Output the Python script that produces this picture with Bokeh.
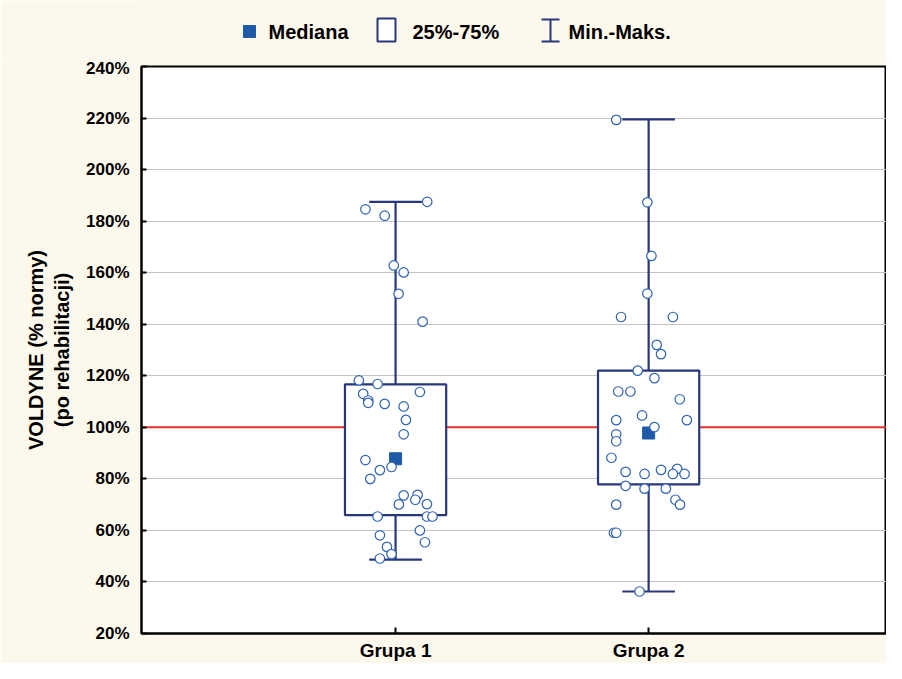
import numpy as np
from bokeh.plotting import figure
from bokeh.models import Range1d, Span, FixedTicker, PrintfTickFormatter
from bokeh.layouts import column
from bokeh.embed import file_html
from bokeh.resources import INLINE
from bokeh.core.properties import value

# ---------------- data ----------------
groups = ["Grupa 1", "Grupa 2"]
group_pos = [1, 2]

g1_values = [187.5, 184.6, 182.1, 162.8, 160.1, 151.8, 141.0, 118.2, 116.8, 113.0,
             110.4, 109.5, 109.1, 113.7, 108.1, 102.9, 97.3, 87.3, 83.4, 84.6,
             80.0, 73.6, 73.8, 71.9, 70.1, 70.2, 65.4, 65.4, 65.4, 60.0,
             58.1, 55.4, 53.6, 50.8, 49.1]
g1_jitter = [0.125, -0.119, -0.043, -0.007, 0.032, 0.012, 0.107, -0.145, -0.071, -0.128,
             -0.108, -0.108, -0.043, 0.096, 0.032, 0.041, 0.032, -0.119, -0.062, -0.016,
             -0.100, 0.032, 0.087, 0.078, 0.013, 0.124, -0.071, 0.124, 0.146, 0.096,
             -0.062, 0.116, -0.034, -0.016, -0.062]

g2_values = [219.3, 187.3, 166.5, 151.9, 142.8, 142.8, 132.0, 128.4, 122.0, 119.1,
             113.9, 113.9, 110.9, 104.6, 102.8, 102.8, 100.1, 97.3, 94.6, 88.2,
             82.7, 81.9, 83.5, 83.9, 81.9, 81.9, 77.3, 76.2, 76.2, 71.9,
             70.0, 70.0, 59.1, 59.1, 36.3]
g2_jitter = [-0.128, -0.005, 0.011, -0.005, -0.109, 0.096, 0.032, 0.049, -0.043, 0.023,
             -0.120, -0.072, 0.123, -0.026, -0.128, 0.151, 0.023, -0.128, -0.128, -0.147,
             -0.091, -0.016, 0.049, 0.113, 0.096, 0.142, -0.091, -0.016, 0.068, 0.106,
             0.124, -0.128, -0.137, -0.128, -0.036]

q1 = [65.9, 77.9]
q3 = [116.7, 122.0]
median = [87.8, 97.8]
vmin = [48.7, 36.3]
vmax = [187.5, 219.5]

reference_level = 100
y_ticks = list(range(20, 241, 20))
legend_labels = ["Mediana", "25%-75%", "Min.-Maks."]
y_title = "VOLDYNE (% normy)\n(po rehabilitacji)"

# ---------------- style ----------------
CREAM = "#fdf8ec"
NAVY = "#28377a"
PT = "#2f62b3"
MED = "#1f5aa8"
RED = "#e5302a"
FONT = value("Liberation Sans")
FONTNAME = "Liberation Sans"

BOX_HW = 0.2
CAP_HW = 0.104

W = 886
LEFT = 141
LEG_H = 58
MAIN_H = 605

# ---------------- main figure ----------------
p = figure(width=W, height=MAIN_H, x_range=Range1d(-0.004, 2.94), y_range=Range1d(20, 240),
           output_backend="svg", toolbar_location=None,
           min_border_left=LEFT, min_border_right=0, min_border_top=8, min_border_bottom=27)
p.background_fill_color = "white"
p.border_fill_color = CREAM
p.outline_line_color = "black"
p.outline_line_width = 2

p.xgrid.visible = False
p.ygrid.ticker = FixedTicker(ticks=y_ticks)
p.ygrid.grid_line_color = "#c4c4c4"
p.ygrid.grid_line_width = 1

p.add_layout(Span(location=reference_level, dimension="width", line_color=RED,
                  line_width=2, level="underlay"))

pos = np.array(group_pos, dtype=float)
# boxes
p.quad(left=pos - BOX_HW, right=pos + BOX_HW, bottom=q1, top=q3,
       fill_color="white", line_color=NAVY, line_width=2.2)
# whiskers
p.segment(x0=pos, y0=vmin, x1=pos, y1=q1, line_color=NAVY, line_width=2.2)
p.segment(x0=pos, y0=q3, x1=pos, y1=vmax, line_color=NAVY, line_width=2.2)
p.segment(x0=pos - CAP_HW, y0=vmin, x1=pos + CAP_HW, y1=vmin, line_color=NAVY, line_width=2.2)
p.segment(x0=pos - CAP_HW, y0=vmax, x1=pos + CAP_HW, y1=vmax, line_color=NAVY, line_width=2.2)
# medians
p.scatter(x=pos, y=median, marker="square", size=12, fill_color=MED, line_color=MED)
# points
for gp, vals, jit in [(group_pos[0], g1_values, g1_jitter), (group_pos[1], g2_values, g2_jitter)]:
    p.scatter(x=gp + np.array(jit), y=vals, marker="circle", size=9.5,
              fill_color="white", line_color=PT, line_width=1.2)

# axes
p.yaxis.ticker = FixedTicker(ticks=y_ticks)
p.yaxis.formatter = PrintfTickFormatter(format="%d%%")
p.xaxis.ticker = FixedTicker(ticks=group_pos)
p.xaxis.major_label_overrides = {gp: g for gp, g in zip(group_pos, groups)}
for ax in (p.xaxis[0], p.yaxis[0]):
    ax.axis_line_color = "black"
    ax.axis_line_width = 2
    ax.major_tick_line_color = "black"
    ax.major_tick_line_width = 2
    ax.major_tick_out = 0
    ax.minor_tick_line_color = None
    ax.major_label_text_font = FONTNAME
    ax.major_label_text_font_style = "bold"
    ax.major_label_text_color = "black"
p.yaxis.major_tick_in = 5
p.xaxis.major_tick_in = 6
p.yaxis.major_label_text_font_size = "17px"
p.xaxis.major_label_text_font_size = "19px"
p.yaxis.major_label_standoff = 12
p.xaxis.major_label_standoff = 6
p.yaxis.axis_label = y_title
p.yaxis.axis_label_text_font = FONTNAME
p.yaxis.axis_label_text_font_style = "bold"
p.yaxis.axis_label_text_font_size = "20px"
p.yaxis.axis_label_text_color = "black"
p.yaxis.axis_label_standoff = 10

# ---------------- legend figure (frame aligned with main frame) ----------------
lf = figure(width=W, height=LEG_H, x_range=Range1d(LEFT, W), y_range=Range1d(LEG_H, 0),
            output_backend="svg", toolbar_location=None,
            min_border_left=LEFT, min_border_right=0, min_border_top=0, min_border_bottom=0)
lf.axis.visible = False
lf.grid.visible = False
lf.outline_line_color = None
lf.background_fill_color = CREAM
lf.border_fill_color = CREAM

ly = 31
lf.scatter(x=[249], y=[ly], marker="square", size=12, fill_color=MED, line_color=MED)
lf.rect(x=[386], y=[29.5], width=18, height=23, fill_color="white", line_color=NAVY, line_width=2)
lf.segment(x0=[550], y0=[19], x1=[550], y1=[41], line_color=NAVY, line_width=2)
lf.segment(x0=[541, 541], y0=[19, 41], x1=[559, 559], y1=[19, 41], line_color=NAVY, line_width=2)
lf.text(x=[268, 412, 568], y=[ly] * 3, text=legend_labels, text_font=FONT,
        text_font_style="bold", text_font_size="20px", text_baseline="middle",
        text_align="left", text_color="black")

layout = column(lf, p, spacing=0)
open("out.html", "w").write(file_html(layout, INLINE))
